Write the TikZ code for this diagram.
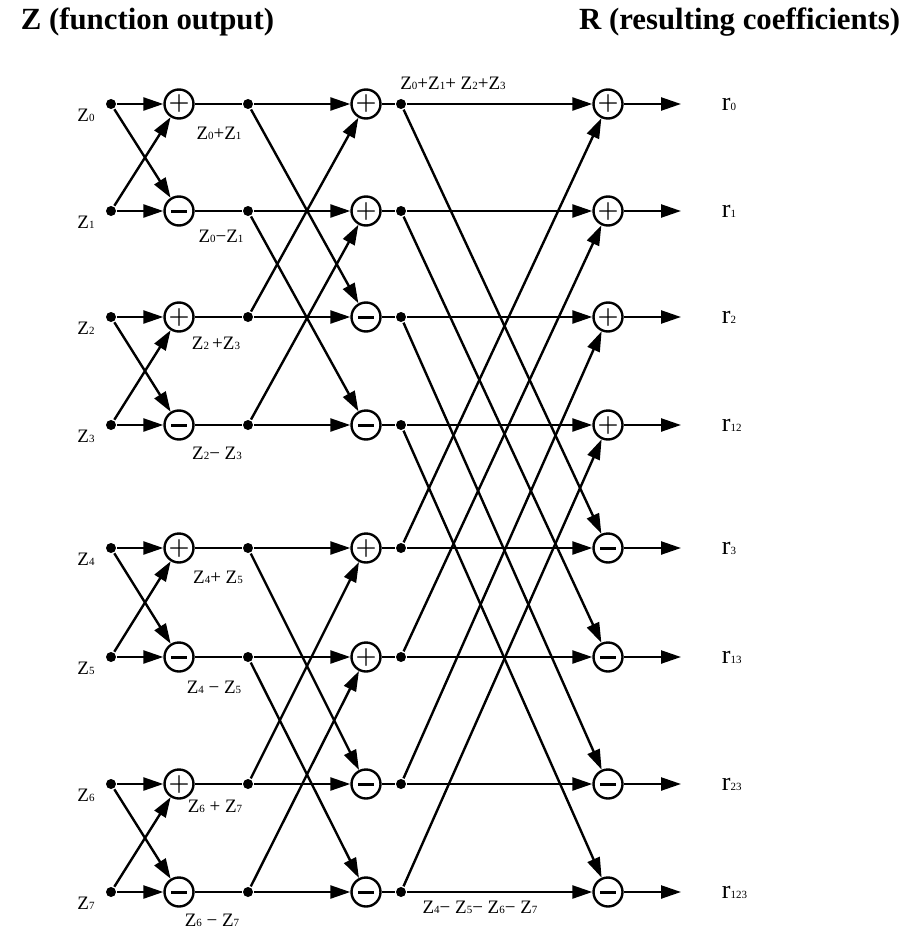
\documentclass[tikz,border=0pt]{standalone}
\usepackage{fontspec}
\setmainfont{Liberation Serif}
\usetikzlibrary{arrows.meta,positioning,calc}
\newcommand{\zsub}[1]{{\fontsize{5.5}{6}\selectfont#1}}
\newcommand{\opplus}{\fontsize{13}{13}\selectfont$\boldsymbol{+}$}
\newcommand{\opminus}{\rule{8pt}{1.5pt}}
\usepackage{amsmath}

\begin{document}
\begin{tikzpicture}[x=0.5pt,y=-0.5pt,line width=1.2pt,
  every node/.style={font=\fontsize{9.5}{11}\selectfont},
  op/.style={circle,draw,line width=1.2pt,minimum size=14.5pt,inner sep=0pt},
  dot/.style={circle,fill,inner sep=0pt,minimum size=5pt},
  flow/.style={-{Triangle[length=10pt,width=6.5pt]}}]
  \useasboundingbox (0,0) rectangle (915,931);
  \node[anchor=base west,font=\fontsize{15.4}{18}\selectfont\bfseries] (ztitle) at (13,30) {Z (function output)};
  \node[anchor=base east,font=\fontsize{15.4}{18}\selectfont\bfseries] (rtitle) at (908,30) {R (resulting coefficients)};
  \foreach \r/\y/\v in {0/104/0,1/211/1,2/317/2,3/425/12,4/548/3,5/657/13,6/784/23,7/892/123}{
    \node[dot] (z\r) at (111,\y) {};
    \node (lz\r) at (86,\y+11) {Z\zsub{\r}};
    \ifodd\r
      \node[op] (a\r) at (179,\y) {\opminus};
    \else
      \node[op] (a\r) at (179,\y) {\opplus};
    \fi
    \node[dot] (b\r) at (248,\y) {};
    \pgfmathtruncatemacro\m{mod(\r,4)}
    \ifnum\m<2
      \node[op] (c\r) at (366,\y) {\opplus};
    \else
      \node[op] (c\r) at (366,\y) {\opminus};
    \fi
    \node[dot] (d\r) at (401,\y) {};
    \ifnum\r<4
      \node[op] (e\r) at (608,\y) {\opplus};
    \else
      \node[op] (e\r) at (608,\y) {\opminus};
    \fi
    \coordinate (o\r) at (681,\y);
    \node[anchor=west,font=\fontsize{13}{14}\selectfont] (lr\r) at (714,\y) {r{\fontsize{5.5}{6}\selectfont\v}};
  }
  \foreach \r in {0,...,7}{
    \draw[flow] (z\r) -- (a\r);
    \draw (a\r) -- (b\r);
    \draw[flow] (b\r) -- (c\r);
    \draw (c\r) -- (d\r);
    \draw[flow] (d\r) -- (e\r);
    \draw[flow] (e\r) -- (o\r);
  }
  \foreach \s/\t in {0/1,1/0,2/3,3/2,4/5,5/4,6/7,7/6} \draw[flow] (z\s) -- (a\t);
  \foreach \s/\t in {0/2,2/0,1/3,3/1,4/6,6/4,5/7,7/5} \draw[flow] (b\s) -- (c\t);
  \foreach \s/\t in {0/4,4/0,1/5,5/1,2/6,6/2,3/7,7/3} \draw[flow] (d\s) -- (e\t);
  \node (p01) at (219,133) {Z\zsub0+Z\zsub1};
  \node (m01) at (221,236) {Z\zsub0−Z\zsub1};
  \node (p23) at (216,343) {Z\zsub2\,+Z\zsub3};
  \node (m23) at (217,453) {Z\zsub2− Z\zsub3};
  \node (p45) at (218,577) {Z\zsub4+ Z\zsub5};
  \node (m45) at (214,687) {Z\zsub4 − Z\zsub5};
  \node (p67) at (215,806) {Z\zsub6 + Z\zsub7};
  \node (m67) at (212,920) {Z\zsub6 − Z\zsub7};
  \node (p0123) at (453,83) {Z\zsub0+Z\zsub1+ Z\zsub2+Z\zsub3};
  \node (m4567) at (480,907) {Z\zsub4− Z\zsub5− Z\zsub6− Z\zsub7};
\end{tikzpicture}
\end{document}
